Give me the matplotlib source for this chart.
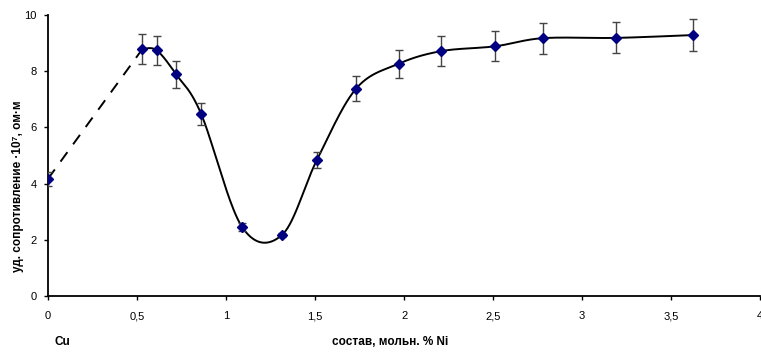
import matplotlib.pyplot as plt
import numpy as np

plt.rcParams['font.family'] = ['Liberation Sans', 'DejaVu Sans']

# состав, мольн. % Ni
x = [0.0, 0.53, 0.61, 0.72, 0.86, 1.09, 1.315, 1.51, 1.73, 1.97, 2.21, 2.51, 2.78, 3.19, 3.62]
# уд. сопротивление * 1e7, Ом*м
y = [4.17, 8.79, 8.75, 7.89, 6.49, 2.46, 2.18, 4.84, 7.38, 8.27, 8.72, 8.89, 9.18, 9.19, 9.29]
err = [0.25, 0.53, 0.52, 0.47, 0.39, 0.15, 0.08, 0.28, 0.45, 0.5, 0.53, 0.53, 0.55, 0.55, 0.57]


def smooth(px, py, n=40):
    # excel-like smoothed line (catmull-rom as cubic bezier)
    px = np.asarray(px); py = np.asarray(py)
    P = np.column_stack([px, py])
    P = np.vstack([P[0], P, P[-1]])
    out = []
    t = np.linspace(0, 1, n)[:, None]
    for i in range(1, len(P) - 2):
        p0, p1, p2, p3 = P[i - 1], P[i], P[i + 1], P[i + 2]
        c1 = p1 + (p2 - p0) / 6
        c2 = p2 - (p3 - p1) / 6
        seg = (1 - t)**3 * p1 + 3 * (1 - t)**2 * t * c1 + 3 * (1 - t) * t**2 * c2 + t**3 * p2
        out.append(seg)
    out = np.vstack(out)
    return out[:, 0], out[:, 1]


fig = plt.figure(figsize=(7.61, 3.52), dpi=100)
ax = fig.add_axes([0.063, 0.159, 0.936, 0.798])

sx, sy = smooth(x[1:], y[1:])
ax.plot(sx, sy, color='black', lw=1.4, zorder=2)
ax.plot(x[:2], y[:2], color='black', lw=1.4, dashes=(6, 5), zorder=2)
ax.errorbar(x, y, yerr=err, fmt='none', ecolor='#444444', elinewidth=1.0,
            capsize=3, capthick=1.0, zorder=3)
ax.plot(x, y, 'D', color='#000080', ms=5, mec='#000080', zorder=4)

ax.set_xlim(0, 4)
ax.set_ylim(0, 10)
ax.set_xticks(np.arange(0, 4.01, 0.5))
ax.set_xticklabels(['0', '0,5', '1', '1,5', '2', '2,5', '3', '3,5', '4'])
ax.set_yticks([0, 2, 4, 6, 8, 10])
ax.tick_params(labelsize=8, length=3, width=1, direction='out')
ax.tick_params(axis='x', pad=8)
ax.tick_params(axis='y', pad=5)
for s in ['top', 'right']:
    ax.spines[s].set_visible(False)
for s in ['left', 'bottom']:
    ax.spines[s].set_linewidth(1.3)

fig.text(0.024, 0.47, 'уд. сопротивление ·10⁷, ом·м', fontsize=8.5, fontweight='bold',
         rotation=90, ha='center', va='center')
fig.text(0.072, 0.02, 'Cu', fontsize=8.5, fontweight='bold')
fig.text(0.513, 0.02, 'состав, мольн. % Ni', fontsize=8.5, fontweight='bold', ha='center')

fig.savefig('out.png', dpi=100)
